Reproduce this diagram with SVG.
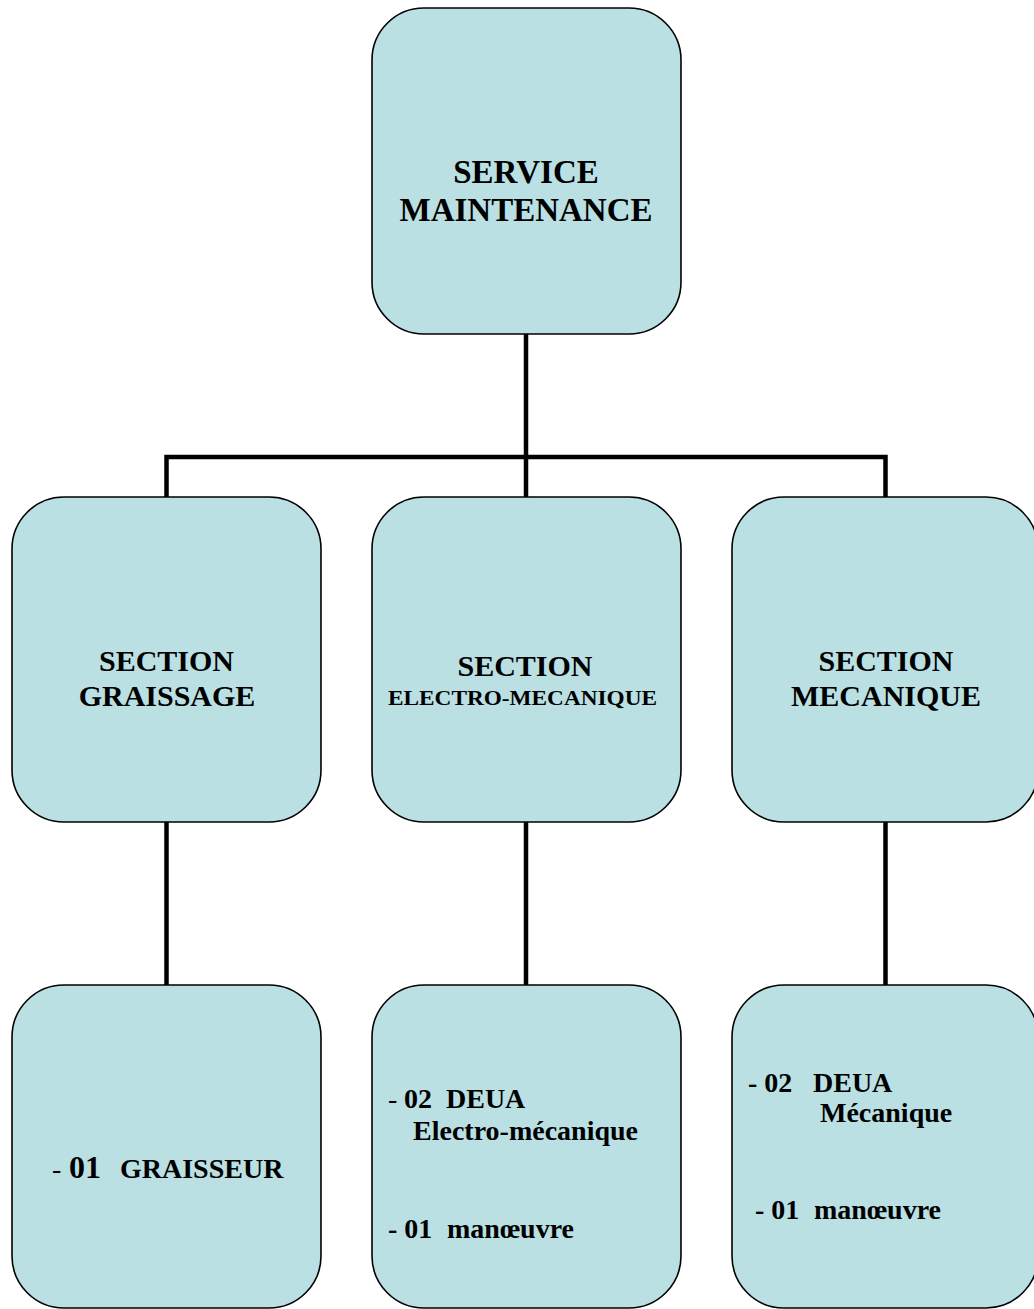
<svg xmlns="http://www.w3.org/2000/svg" width="1034" height="1309" viewBox="0 0 1034 1309">
<style>
.box{fill:#bae0e3;stroke:#000;stroke-width:1.6}
.con{fill:none;stroke:#000;stroke-width:4.5;stroke-linejoin:miter;stroke-linecap:square}
text{font-family:"Liberation Serif","Times New Roman",serif;font-weight:bold;fill:#000}
.t{font-size:33px;text-anchor:middle}
.s{font-size:30px;text-anchor:middle}
.b{font-size:28px}
.n{font-weight:normal}
</style>
<rect width="1034" height="1309" fill="#fff"/>
<g id="connectors">
<path class="con" d="M526 334 V457"/>
<path class="con" d="M166.5 497 V457 H885.5 V497"/>
<path class="con" d="M526 457 V497"/>
<path class="con" d="M166.5 822 V985"/>
<path class="con" d="M526 822 V985"/>
<path class="con" d="M885.5 822 V985"/>
</g>
<g id="service-maintenance">
<rect class="box" x="372" y="8" width="309" height="326" rx="52" ry="52"/>
<text class="t" x="526" y="183">SERVICE</text>
<text class="t" x="526" y="221">MAINTENANCE</text>
</g>
<g id="section-graissage">
<rect class="box" x="12" y="497" width="309" height="325" rx="52" ry="52"/>
<text class="s" x="166.5" y="671">SECTION</text>
<text class="s" x="167" y="706">GRAISSAGE</text>
</g>
<g id="section-electro-mecanique">
<rect class="box" x="372" y="497" width="309" height="325" rx="52" ry="52"/>
<text class="s" x="525" y="676">SECTION</text>
<text x="388" y="705" font-size="20" textLength="269" lengthAdjust="spacingAndGlyphs">ELECTRO-MECANIQUE</text>
</g>
<g id="section-mecanique">
<rect class="box" x="732" y="497" width="306" height="325" rx="52" ry="52"/>
<text class="s" x="886" y="671">SECTION</text>
<text class="s" x="886" y="706">MECANIQUE</text>
</g>
<g id="graisseur">
<rect class="box" x="12" y="985" width="309" height="323" rx="52" ry="52"/>
<text x="52" y="1178"><tspan class="n" font-size="28">-</tspan><tspan font-size="32" x="69">01</tspan><tspan font-size="28" x="120">GRAISSEUR</tspan></text>
</g>
<g id="electro-staff">
<rect class="box" x="372" y="985" width="309" height="323" rx="52" ry="52"/>
<text class="b" x="388" y="1108"><tspan class="n">-</tspan><tspan x="404">02</tspan><tspan x="446">DEUA</tspan></text>
<text class="b" x="413" y="1140">Electro-mécanique</text>
<text class="b" x="388" y="1238">- 01<tspan x="447">manœuvre</tspan></text>
</g>
<g id="mecanique-staff">
<rect class="box" x="732" y="985" width="306" height="323" rx="52" ry="52"/>
<text class="b" x="748" y="1092">- 02<tspan x="813">DEUA</tspan></text>
<text class="b" x="820" y="1122">Mécanique</text>
<text class="b" x="755" y="1219">- 01<tspan x="814">manœuvre</tspan></text>
</g>
</svg>
